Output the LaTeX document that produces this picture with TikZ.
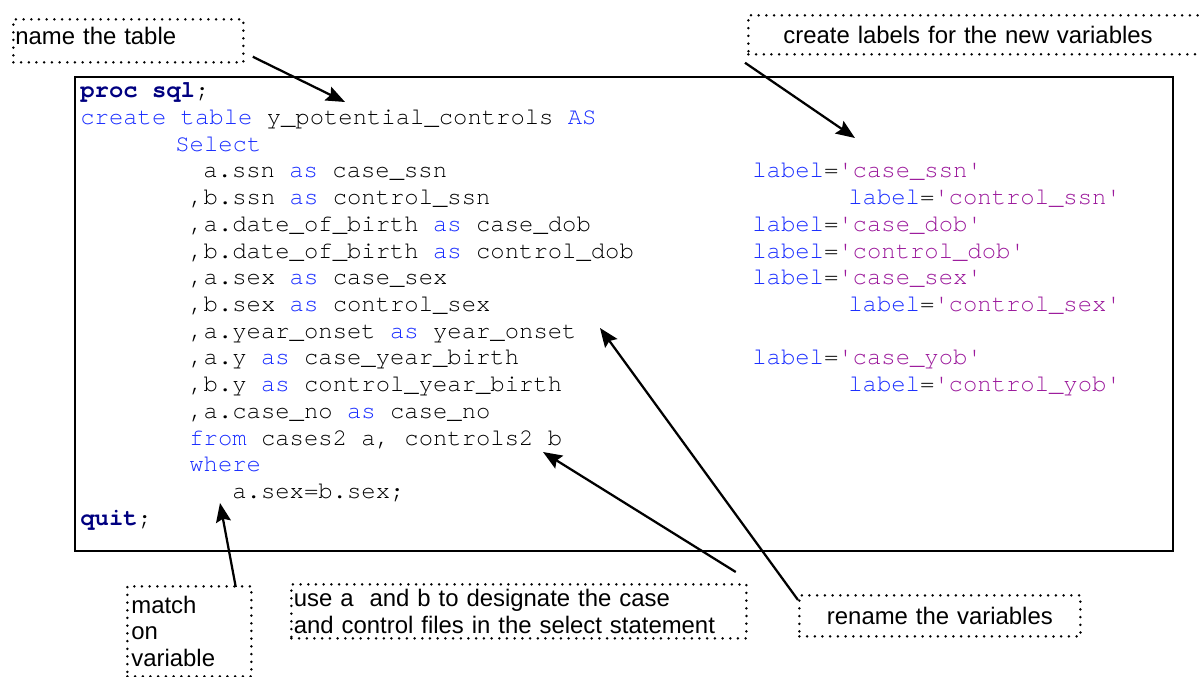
\documentclass[tikz,border=0pt]{standalone}
\usepackage{fontspec}
\setmainfont{Liberation Sans}
\setmonofont{TeX Gyre Cursor}
\usetikzlibrary{positioning,arrows.meta}

\definecolor{saskw}{RGB}{25,45,255}
\definecolor{sasproc}{RGB}{0,0,128}
\definecolor{sasstr}{RGB}{155,25,155}

\newcommand{\kw}[1]{\textcolor{saskw}{#1}}
\newcommand{\kwb}[1]{\textcolor{sasproc}{\textbf{#1}}}
\newcommand{\sasstr}[1]{\textcolor{sasstr}{\textquotesingle#1\textquotesingle}}
\newcommand{\saslabel}[1]{\kw{label}=\sasstr{#1}}

\begin{document}
\begin{tikzpicture}[
    x=0.2mm, y=-0.2mm,
    code/.style={font=\ttfamily\fontsize{13.6}{15.2}\selectfont, anchor=base west,
                 inner sep=0pt},
    note/.style={draw, line width=0.55mm, dash pattern=on 0pt off 1.54mm,
                 line cap=round, font=\fontsize{13.6}{15.2}\selectfont,
                 align=left, anchor=north west, inner ysep=0pt},
    arr/.style={-{Stealth[length=3.8mm,width=3mm,inset=0.6mm]}, line width=0.45mm},
    frame/.style={draw, line width=0.5mm},
  ]
  \useasboundingbox (0,0) rectangle (1200,677);

  % the sql step
  \draw[frame] (75,77) rectangle (1173,551);
  \foreach \cx/\row/\txt in {
      80/0/{\kwb{proc sql};},
      80/1/{\kw{create table} y\_potential\_controls \kw{AS}},
      175/2/{\kw{Select}},
      203/3/{a.ssn \kw{as} case\_ssn},
      189/4/{,b.ssn \kw{as} control\_ssn},
      189/5/{,a.date\_of\_birth \kw{as} case\_dob},
      189/6/{,b.date\_of\_birth \kw{as} control\_dob},
      189/7/{,a.sex \kw{as} case\_sex},
      189/8/{,b.sex \kw{as} control\_sex},
      189/9/{,a.year\_onset \kw{as} year\_onset},
      189/10/{,a.y \kw{as} case\_year\_birth},
      189/11/{,b.y \kw{as} control\_year\_birth},
      189/12/{,a.case\_no \kw{as} case\_no},
      189/13/{\kw{from} cases2 a, controls2 b},
      189/14/{\kw{where}},
      232/15/{a.sex=b.sex;},
      80/16/{\kwb{quit};}}
    \node[code] (ln\row) at (\cx,97.9+26.7*\row) {\txt};

  % label= column
  \foreach \cx/\row/\lab in {752/3/case\_ssn, 848/4/control\_ssn, 752/5/case\_dob,
      752/6/control\_dob, 752/7/case\_sex, 848/8/control\_sex, 752/10/case\_yob,
      848/11/control\_yob}
    \node[code] (lab\row) at (\cx,97.9+26.7*\row) {\saslabel{\lab}};

  % dotted callouts
  \node[note, minimum width=46mm, minimum height=8.6mm, text width=45.2mm,
        inner xsep=0.4mm, text depth=2mm] (namebox) at (12,18) {name the table};
  \node[note, minimum height=7.8mm, text width=84mm, inner xsep=7mm]
    (labelsbox) at (747,14) {create labels for the new variables};
  \node[note, minimum height=18mm, text width=23.2mm, inner xsep=0.8mm]
    (matchbox) at (126,585) {match\\on\\variable};
  \node[note, minimum height=10.8mm, text width=90mm, inner xsep=0.5mm]
    (usebox) at (290,583)
    {use a\ \ and b to designate the case\\and control files in the select statement};
  \node[note, align=center, minimum height=8.2mm, text width=56.2mm, inner xsep=0pt]
    (renamebox) at (798,594) {rename the variables};

  % where the arrows point
  \coordinate (tabname) at (345,102);
  \coordinate (labcol) at (855,138);
  \coordinate (asname) at (600,328);
  \coordinate (aliasb) at (543,452);
  \coordinate (whereeq) at (220,503);

  \draw[arr] ([shift={(8,-7)}]namebox.south east) -- (tabname);
  \draw[arr] ([shift={(-2,7)}]labelsbox.south west) -- (labcol);
  \draw[arr] ([shift={(0,6)}]renamebox.north west) -- (asname);
  \draw[arr] ([shift={(-12,-11)}]usebox.north east) -- (aliasb);
  \draw[arr] ([shift={(-17,2)}]matchbox.north east) -- (whereeq);
\end{tikzpicture}
\end{document}
